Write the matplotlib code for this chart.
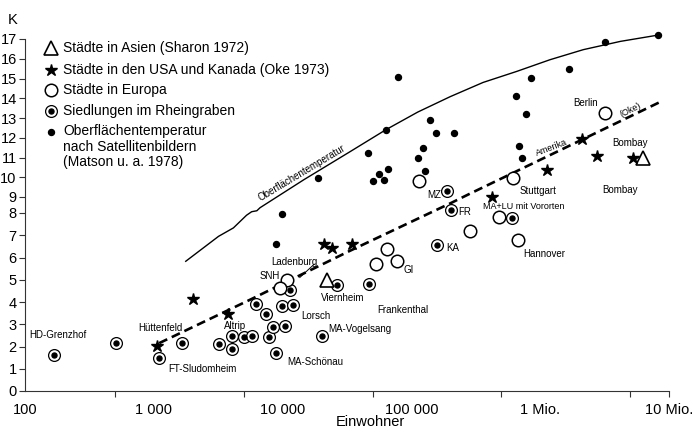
import matplotlib
matplotlib.use('Agg')
import matplotlib.pyplot as plt
import numpy as np

plt.rcParams['font.family'] = ['Liberation Sans', 'DejaVu Sans']

# Städte in Asien (Sharon 1972)
asia_n = [22100, 6.3e6]
asia_k = [5.0, 10.96]

# Städte in den USA und Kanada (Oke 1973)
usa_n = [1060, 2010, 3750, 21000, 24000, 34400, 425000, 1.13e6, 2.12e6, 2.78e6, 5.22e6]
usa_k = [2.02, 4.14, 3.47, 6.62, 6.43, 6.62, 8.98, 10.37, 11.92, 11.08, 10.96]

# Städte in Europa
eur_n = [10900, 9500, 52800, 64300, 76900, 115000, 285000, 481000, 676000, 611000, 3.2e6]
eur_k = [5.0, 4.62, 5.71, 6.38, 5.86, 9.81, 7.17, 7.8, 6.8, 9.95, 13.24]

# Siedlungen im Rheingraben
rhein_n = [167, 506, 1090, 1650, 3200, 4050, 4080, 5000, 5800, 6250, 7450, 7800,
           8350, 8850, 9850, 10400, 11950, 11500, 20400, 26600, 47100, 158000,
           202000, 190000, 607000]
rhein_k = [1.6, 2.17, 1.5, 2.14, 2.1, 2.48, 1.87, 2.43, 2.46, 3.9, 3.48, 2.42,
           2.87, 1.72, 3.83, 2.93, 3.85, 4.53, 2.45, 4.76, 4.8, 6.54,
           8.2, 9.3, 7.77]

# Oberflächentemperatur nach Satellitenbildern (Matson u. a. 1978)
sat_n = [9820, 8890, 18900, 50000, 56200, 61300, 65400, 46400, 64000, 78300,
         113000, 124000, 128000, 138700, 155000, 213000, 645000, 777000, 855000,
         684000, 724000, 1.68e6, 3.2e6, 8.26e6]
sat_k = [7.97, 6.6, 9.96, 9.8, 10.16, 9.86, 10.4, 11.24, 12.4, 15.07,
         10.96, 11.46, 10.33, 12.9, 12.26, 12.23, 14.12, 13.2, 15.04,
         11.6, 11.0, 15.46, 16.86, 17.2]

# curves
surf_n = [1770, 3180, 4150, 5250, 5750, 6310, 6680, 14660, 33300, 63500, 112000,
          200000, 360000, 658000, 1.19e6, 2.16e6, 4.2e6, 8.26e6]
surf_k = [5.83, 6.95, 7.33, 7.9, 8.08, 8.14, 8.33, 9.88, 11.29, 12.41, 13.3,
          14.08, 14.8, 15.36, 15.95, 16.46, 16.88, 17.2]
trend_n = [1100, 5580, 33300, 139000, 200000, 285000, 1.19e6, 8.97e6]
trend_k = [2.15, 4.1, 6.3, 8.0, 8.6, 9.17, 11.12, 13.88]

xticks = [1e2, 1e3, 1e4, 1e5, 1e6, 1e7]
xticklabels = ['100', '1 000', '10 000', '100 000', '1 Mio.', '10 Mio.']
xminor = [5e2, 5e3, 5e4, 5e5, 5e6]
yticks = list(range(18))

# place names: text, N, K
names = [
    ('HD-Grenzhof', 180, 2.5),
    ('Hüttenfeld', 1117, 2.84),
    ('FT-Sludomheim', 2366, 0.97),
    ('Altrip', 4240, 2.94),
    ('Lorsch', 18150, 3.39),
    ('MA-Schönau', 17800, 1.32),
    ('MA-Vogelsang', 39800, 2.79),
    ('Viernheim', 29400, 4.16),
    ('Frankenthal', 86100, 3.64),
    ('Ladenburg', 12250, 5.8),
    ('SNH', 7940, 5.19),
    ('GI', 95000, 5.44),
    ('KA', 210000, 6.41),
    ('FR', 260000, 8.04),
    ('Hannover', 1.08e6, 6.16),
    ('Stuttgart', 955000, 9.28),
    ('MZ', 149000, 9.1),
    ('Berlin', 2.26e6, 13.76),
    ('Bombay', 4.97e6, 11.73),
    ('Bombay', 4.17e6, 9.33),
]

# piecewise vertical scale of the original drawing (8 and 9 squeezed together)
k_pts = [-10, 0, 8, 9, 17, 30]
px_pts = [-222.5, 0, 178, 194, 352, 608.75]


def fwd(k):
    return np.interp(k, k_pts, px_pts)


def inv(p):
    return np.interp(p, px_pts, k_pts)


fig = plt.figure(figsize=(6.93, 4.33), dpi=100)
ax = fig.add_axes([25 / 693, 1 - 391 / 433, 644 / 693, (391 - 31.1) / 433])
ax.set_xscale('log')
ax.set_yscale('function', functions=(fwd, inv))
ax.set_xlim(100, 1e7)
ax.set_ylim(0, 17.4)

# curves
ax.plot(surf_n, surf_k, '-', color='k', lw=1.0, zorder=2, clip_on=False)
ax.plot(trend_n, trend_k, '-', color='k', lw=1.9, dashes=(3.4, 1.9), zorder=2)

# markers
ax.plot(sat_n, sat_k, 'o', ms=4.3, color='k', ls='none', zorder=4, clip_on=False)
ax.plot(rhein_n, rhein_k, 'o', ms=8.5, mfc='white', mec='k', mew=0.9, ls='none', zorder=3)
ax.plot(rhein_n, rhein_k, 'o', ms=3.6, color='k', ls='none', zorder=4)
ax.plot(eur_n, eur_k, 'o', ms=9, mfc='white', mec='k', mew=1.1, ls='none', zorder=3)
ax.plot(usa_n, usa_k, '*', ms=9, color='k', ls='none', zorder=4)
ax.plot(asia_n, asia_k, '^', ms=10, mfc='white', mec='k', mew=1.2, ls='none', zorder=3)

# labels
for txt, n, k in names:
    ax.text(n, k, txt, fontsize=7, ha='center', va='center', zorder=5)
ax.text(360000, 8.39, 'MA+LU mit Vororten', fontsize=6.5, ha='left', va='center', zorder=5)
ax.plot([17600, 13600], [5.7, 5.1], color='k', lw=0.7)
ax.text(14200, 10.2, 'Oberflächentemperatur', fontsize=7, rotation=31,
        ha='center', va='center', rotation_mode='anchor')
ax.text(1.23e6, 11.5, 'Amerika', fontsize=6.5, rotation=21,
        ha='center', va='center', rotation_mode='anchor')
ax.text(5.07e6, 13.42, '(Oke)', fontsize=6.5, rotation=26,
        ha='center', va='center', rotation_mode='anchor')

# axes
for s in ['top', 'right']:
    ax.spines[s].set_visible(False)
for s in ['left', 'bottom']:
    ax.spines[s].set_linewidth(0.8)
    ax.spines[s].set_color('#333333')
ax.spines['left'].set_bounds(0, 17)

ax.set_xticks(xticks, labels=xticklabels)
ax.set_xticks(xminor, minor=True)
ax.xaxis.set_minor_formatter(plt.NullFormatter())
ax.tick_params(axis='x', which='both', length=4, width=0.8, color='#333333',
               labelsize=10.5, pad=5)
for t in ax.xaxis.get_major_ticks()[:-1]:
    t.tick1line.set_visible(False)
ax.set_yticks(yticks, labels=[str(v) for v in yticks])
ax.yaxis.set_minor_locator(plt.NullLocator())
ax.tick_params(axis='y', length=4, width=0.8, color='#333333', labelsize=10.5, pad=2)

fig.text(13 / 693, 1 - 20 / 433, 'K', fontsize=10.5, ha='center', va='center')
fig.text(370 / 693, 1 - 422 / 433, 'Einwohner', fontsize=10.5, ha='center', va='center')

# legend
leg_x, txt_x = 51 / 693, 63 / 693
leg_rows = [
    ('^', dict(ms=10, mfc='white', mec='k', mew=1.2), 'Städte in Asien (Sharon 1972)', 48),
    ('*', dict(ms=9, color='k'), 'Städte in den USA und Kanada (Oke 1973)', 70),
    ('o', dict(ms=9, mfc='white', mec='k', mew=1.1), 'Städte in Europa', 90),
    ('o', dict(ms=8.5, mfc='white', mec='k', mew=0.9), 'Siedlungen im Rheingraben', 111),
    ('o', dict(ms=4.3, color='k'), 'Oberflächentemperatur', 132),
]
for m, kw, label, py in leg_rows:
    ax.plot([leg_x], [1 - py / 433], m, transform=fig.transFigure, clip_on=False, **kw)
    if label != 'Oberflächentemperatur':
        fig.text(txt_x, 1 - py / 433, label, fontsize=10, ha='left', va='center')
ax.plot([leg_x], [1 - 111 / 433], 'o', ms=3.6, color='k',
        transform=fig.transFigure, clip_on=False)
fig.text(txt_x, 1 - 124 / 433,
         'Oberflächentemperatur\nnach Satellitenbildern\n(Matson u. a. 1978)',
         fontsize=10, ha='left', va='top', linespacing=1.15)

fig.savefig('out.png', dpi=100)
